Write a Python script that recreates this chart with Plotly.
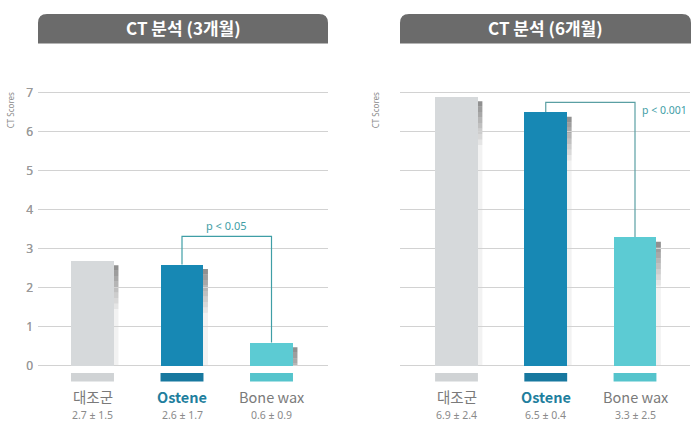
import plotly.graph_objects as go

categories = ["대조군", "Ostene", "Bone wax"]
values_3m = [2.7, 2.6, 0.6]
values_6m = [6.9, 6.5, 3.3]
stats_3m = ["2.7 ± 1.5", "2.6 ± 1.7", "0.6 ± 0.9"]
stats_6m = ["6.9 ± 2.4", "6.5 ± 0.4", "3.3 ± 2.5"]
titles = ["CT 분석 (3개월)", "CT 분석 (6개월)"]
pvals = ["p < 0.05", "p < 0.001"]
bracket_tops = [3.32, 6.75]
tick_vals = [0, 1, 2, 3, 4, 5, 6, 7]

bar_colors = ["#d6d9db", "#1788b4", "#5ccbd3"]
swatch_colors = ["#d0d3d5", "#17789f", "#55c4cc"]
pos = [0, 1, 2]
W, H = 691, 422
FONT = "Noto Sans CJK KR"

fig = go.Figure()

panels = [
    dict(x0=38, x1=328, c0=92.5, step=89.5, xa="x", ya="y", xname="xaxis", yname="yaxis"),
    dict(x0=400, x1=690, c0=456.5, step=89.25, xa="x2", ya="y2", xname="xaxis2", yname="yaxis2"),
]
ppu = 278 / 7.0
y_lo, y_hi = -0.45, 7.05
ybot_px = 365 + (-y_lo) * ppu
ytop_px = 365 - y_hi * ppu
ydom = [(H - ybot_px) / H, (H - ytop_px) / H]

shapes = []
annotations = []
datasets = [(values_3m, stats_3m), (values_6m, stats_6m)]
bw = 0.48
sw = 0.05

for i, p in enumerate(panels):
    vals, stats = datasets[i]
    # soft shadows at the right edge of each bar, fading downward
    for k in range(3):
        top_s = vals[k] - 0.12
        nseg = 8
        seg = 0.14
        for s in range(nseg):
            y1 = top_s - s * seg
            y0 = max(0.0, y1 - seg)
            if y1 <= 0:
                break
            op = 0.6 - s * 0.065
            shapes.append(dict(type="rect", xref=p["xa"], yref=p["ya"],
                               x0=pos[k] + bw / 2 - 0.01, x1=pos[k] + bw / 2 + sw,
                               y0=y0, y1=y1, fillcolor=f"rgba(70,70,70,{op:.2f})",
                               line=dict(width=0), layer="below"))
        rest_top = top_s - nseg * seg
        if rest_top > 0:
            shapes.append(dict(type="rect", xref=p["xa"], yref=p["ya"],
                               x0=pos[k] + bw / 2 - 0.01, x1=pos[k] + bw / 2 + sw,
                               y0=0.0, y1=rest_top, fillcolor="rgba(90,90,90,0.08)",
                               line=dict(width=0), layer="below"))
    fig.add_trace(go.Bar(x=pos, y=vals, width=bw, marker=dict(color=bar_colors, line=dict(width=0)),
                         xaxis=p["xa"], yaxis=p["ya"], showlegend=False, hoverinfo="skip"))
    rng0 = -(p["c0"] - p["x0"]) / p["step"]
    rng1 = 2 + (p["x1"] - (p["c0"] + 2 * p["step"])) / p["step"]
    fig.update_layout(**{
        p["xname"]: dict(domain=[p["x0"] / W, p["x1"] / W], range=[rng0, rng1], showgrid=False,
                         zeroline=False, showticklabels=False, showline=False, fixedrange=True),
        p["yname"]: dict(domain=ydom, range=[y_lo, y_hi], tickvals=tick_vals, showgrid=True,
                         gridcolor="#d2d2d2", gridwidth=1, zeroline=False, showline=False,
                         tickfont=dict(size=12, color="#9a9a9a", family="Noto Sans"), ticks="",
                         ticklabelstandoff=4, fixedrange=True),
    })
    # swatches under bars
    for k in range(3):
        shapes.append(dict(type="rect", xref=p["xa"], yref=p["ya"],
                           x0=pos[k] - bw / 2, x1=pos[k] + bw / 2, y0=-0.40, y1=-0.18,
                           fillcolor=swatch_colors[k], line=dict(width=0)))
    # significance bracket
    top = bracket_tops[i]
    bc = "#3f9ea6" if i == 0 else "#5a9fa3"
    shapes.append(dict(type="path", xref=p["xa"], yref=p["ya"],
                       path=f"M 1,{vals[1]} L 1,{top} L 2,{top} L 2,{vals[2]}",
                       line=dict(color=bc, width=1.2)))
    if i == 0:
        annotations.append(dict(x=1.5, y=top + 0.28, xref=p["xa"], yref=p["ya"], text=pvals[i],
                                xanchor="center", yanchor="middle", showarrow=False,
                                font=dict(size=11, color="#3f9ea6", family="Noto Sans")))
    else:
        annotations.append(dict(x=2.06, y=top - 0.2, xref=p["xa"], yref=p["ya"], text=pvals[i],
                                xanchor="left", yanchor="middle", showarrow=False,
                                font=dict(size=10.5, color="#3f9ea6", family="Noto Sans")))
    # category labels
    for k in range(3):
        if k == 1:
            txt = f"<b>{categories[k]}</b>"
            col = "#1f7f9e"
        else:
            txt = categories[k]
            col = "#7a7a7a"
        annotations.append(dict(x=pos[k], y=(H - 396.5) / H, xref=p["xa"], yref="paper", text=txt,
                                showarrow=False, xanchor="center", yanchor="middle", borderpad=0,
                                font=dict(size=14.5, color=col, family=FONT)))
        annotations.append(dict(x=pos[k], y=(H - 414.5) / H, xref=p["xa"], yref="paper", text=stats[k],
                                showarrow=False, xanchor="center", yanchor="middle", borderpad=0,
                                font=dict(size=10.5, color="#8a8a8a", family="Noto Sans")))
    # axis title
    ax_x = 10 if i == 0 else 375
    annotations.append(dict(x=ax_x / W, y=(H - 105) / H, xref="paper", yref="paper", text="CT Scores",
                            textangle=-90, showarrow=False, xanchor="center", yanchor="middle",
                            font=dict(size=8, color="#8a8a8a", family="Noto Sans")))
    # title banner with rounded top corners
    bx0, bx1 = (p["x0"] / W, (p["x1"] + (1 if i == 1 else 0)) / W)
    by0, by1 = (H - 37) / H, (H - 7) / H
    rx, ry = 9 / W, 9 / H
    path = (f"M {bx0},{by0} L {bx0},{by1 - ry} Q {bx0},{by1} {bx0 + rx},{by1} "
            f"L {bx1 - rx},{by1} Q {bx1},{by1} {bx1},{by1 - ry} L {bx1},{by0} Z")
    shapes.append(dict(type="path", xref="paper", yref="paper", path=path,
                       fillcolor="#6b6b6b", line=dict(width=0)))
    annotations.append(dict(x=(bx0 + bx1) / 2, y=(by0 + by1) / 2 + 0.002, xref="paper", yref="paper",
                            text=f"<b>{titles[i]}</b>", showarrow=False,
                            xanchor="center", yanchor="middle",
                            font=dict(size=17, color="white", family=FONT)))

fig.update_layout(width=W, height=H, margin=dict(l=0, r=0, t=0, b=0),
                  paper_bgcolor="white", plot_bgcolor="white",
                  shapes=shapes, annotations=annotations, bargap=0)
fig.write_html("out.html", config={"displayModeBar": False},
               post_script="document.body.style.margin='0px';document.body.style.overflow='hidden';")
